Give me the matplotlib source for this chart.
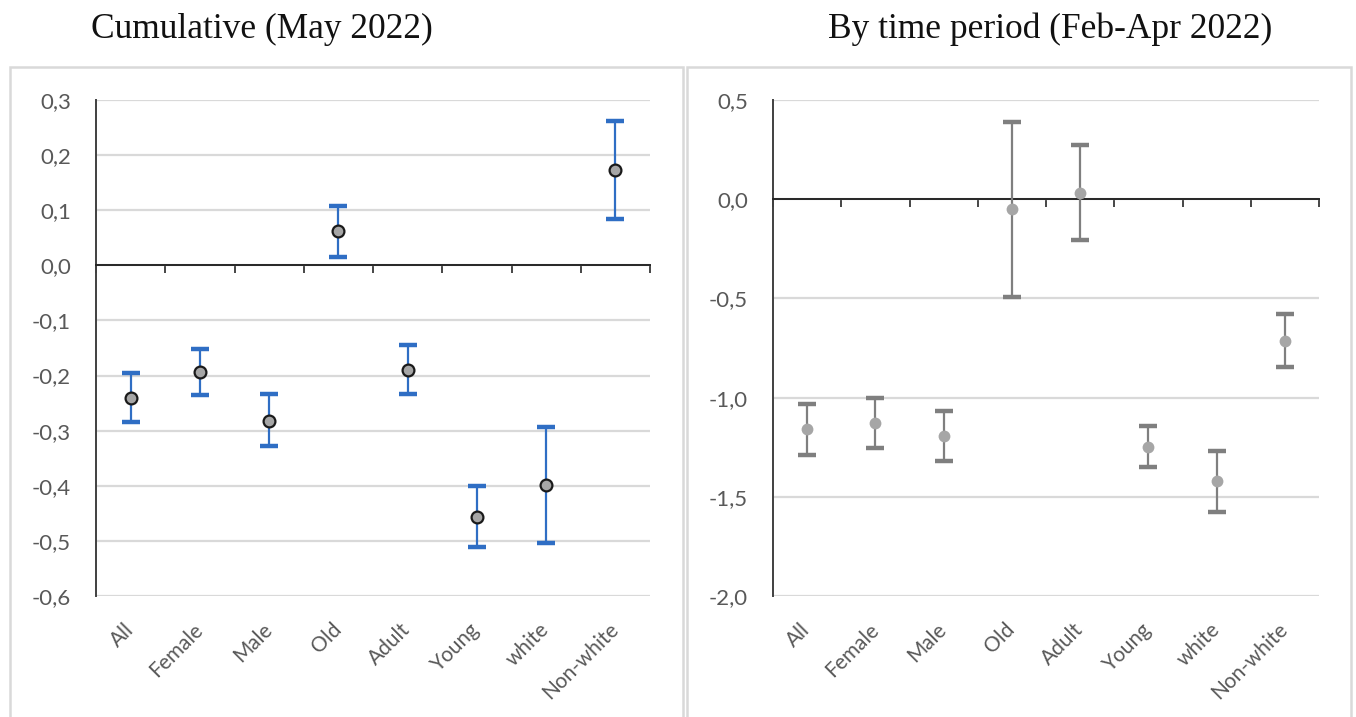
import numpy as np
import matplotlib
matplotlib.use('Agg')
import matplotlib.pyplot as plt
from matplotlib.patches import Rectangle

# categories shared by both panels
groups = ['All', 'Female', 'Male', 'Old', 'Adult', 'Young', 'white', 'Non-white']

# cumulative (May 2022): point estimate, lower and upper bound
cum_est = [-0.240, -0.194, -0.282, 0.062, -0.190, -0.456, -0.399, 0.173]
cum_low = [-0.284, -0.236, -0.328, 0.016, -0.234, -0.511, -0.503, 0.084]
cum_high = [-0.196, -0.151, -0.234, 0.107, -0.145, -0.400, -0.294, 0.262]

# by time period (Feb-Apr 2022)
per_est = [-1.160, -1.130, -1.196, -0.049, 0.032, -1.248, -1.420, -0.713]
per_low = [-1.288, -1.256, -1.318, -0.493, -0.208, -1.348, -1.578, -0.844]
per_high = [-1.033, -1.001, -1.066, 0.390, 0.273, -1.145, -1.268, -0.580]

W, H = 1356, 717
fig = plt.figure(figsize=(W / 100, H / 100), dpi=100)
plt.rcParams['font.family'] = ['Lato', 'DejaVu Sans']

TICKCOL = '#595959'
GRIDCOL = '#d9d9d9'


def px_axes(x0, y0, x1, y1):
    # pixel box (top-left origin) -> figure axes
    return fig.add_axes([x0 / W, 1 - y1 / H, (x1 - x0) / W, (y1 - y0) / H])


def panel(ax, est, low, high, ylim, step, color, mfc, mec, edge):
    n = len(groups)
    x = np.arange(n) + 0.5
    est = np.array(est)
    yerr = [est - np.array(low), np.array(high) - est]
    ax.errorbar(x, est, yerr=yerr, fmt='none', ecolor=color,
                elinewidth=1.6, capsize=6.2, capthick=3.2, zorder=4)
    ax.plot(x, est, 'o', markersize=8.5, markerfacecolor=mfc,
            markeredgecolor=mec, markeredgewidth=edge, zorder=5)
    ax.set_xlim(0, n)
    ax.set_ylim(*ylim)
    ax.set_yticks(np.arange(ylim[0], ylim[1] + step / 2, step))
    ax.yaxis.set_major_formatter(matplotlib.ticker.FuncFormatter(
        lambda v, p: '{:.1f}'.format(v).replace('.', ',').replace('-0,0', '0,0')))
    ax.yaxis.grid(True, color=GRIDCOL, lw=1.6, zorder=0)
    ax.set_axisbelow(True)
    for s in ['top', 'right']:
        ax.spines[s].set_visible(False)
    ax.spines['left'].set_color('#404040')
    ax.spines['left'].set_linewidth(1.4)
    # horizontal axis line at zero with ticks between categories
    ax.spines['bottom'].set_position(('data', 0))
    ax.spines['bottom'].set_color('#262626')
    ax.spines['bottom'].set_linewidth(1.4)
    ax.set_xticks(np.arange(n + 1))
    ax.set_xticklabels([])
    ax.tick_params(axis='x', direction='out', length=6, width=1.2, color='#262626')
    ax.tick_params(axis='y', length=0, pad=18, labelsize=16, labelcolor=TICKCOL)
    # category labels at the bottom
    sec = ax.secondary_xaxis(0)
    sec.set_xticks(x)
    sec.set_xticklabels(groups, rotation=45, ha='right', va='center',
                        rotation_mode='anchor', fontsize=15, color=TICKCOL)
    sec.tick_params(length=0, pad=22)
    sec.spines['bottom'].set_visible(False)


ax1 = px_axes(96, 100, 650, 596)
panel(ax1, cum_est, cum_low, cum_high, (-0.6, 0.3), 0.1, '#2f6ec4', '#a6a6a6', '#1a1a1a', 1.6)

ax2 = px_axes(773, 100, 1319, 596)
panel(ax2, per_est, per_low, per_high, (-2.0, 0.5), 0.5, '#7f7f7f', '#a6a6a6', '#a6a6a6', 0)

# panel frames
for x0, x1 in [(10, 683), (687, 1351)]:
    fig.patches.append(Rectangle((x0 / W, -0.02), (x1 - x0) / W, 1 - 67 / H + 0.02,
                                 transform=fig.transFigure, fill=False,
                                 edgecolor=GRIDCOL, lw=1.8))

fig.text(262 / W, 1 - 29 / H, 'Cumulative (May 2022)', ha='center', va='center',
         fontsize=25.5, family='Liberation Serif', color='#111111')
fig.text(1050 / W, 1 - 29 / H, 'By time period (Feb-Apr 2022)', ha='center', va='center',
         fontsize=25.5, family='Liberation Serif', color='#111111')

fig.savefig('out.png', dpi=100)
